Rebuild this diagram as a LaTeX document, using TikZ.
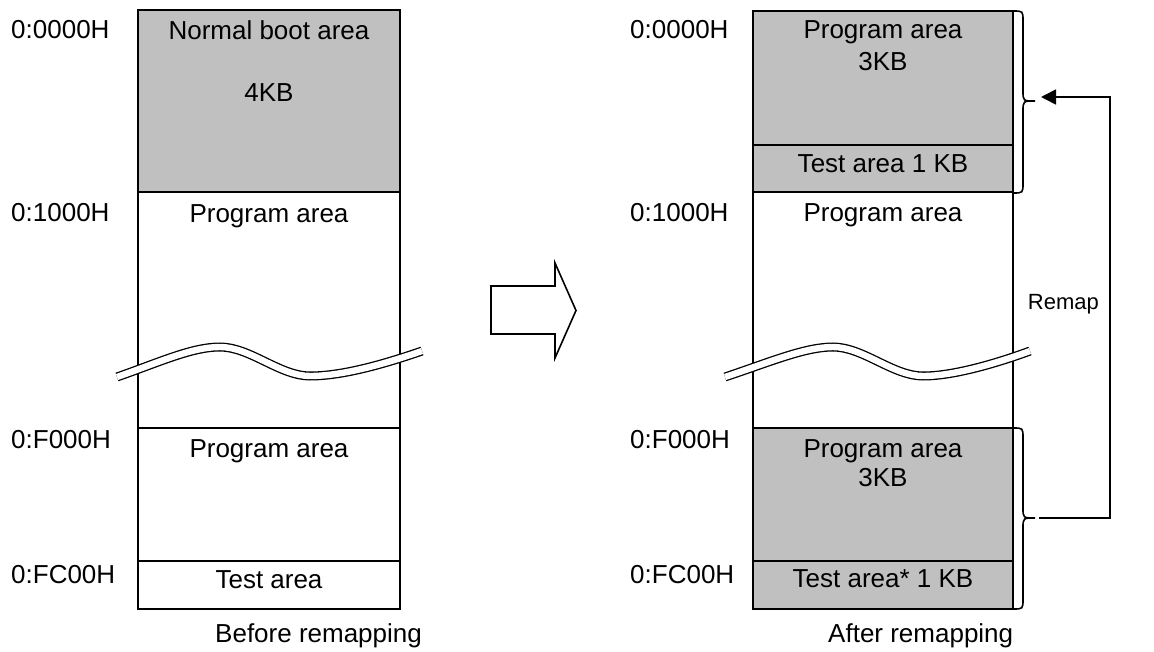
\documentclass[tikz,border=0pt]{standalone}
\usepackage{fontspec}
\setmainfont{Liberation Sans}
\usetikzlibrary{arrows.meta}
\definecolor{areagray}{RGB}{192,192,192}
\tikzset{
  lbl/.style={inner sep=0pt, font=\fontsize{26}{31}\selectfont},
  addr/.style={lbl, anchor=base west},
  intxt/.style={lbl, anchor=base},
  boxline/.style={line width=1.6pt},
  wave/.style={double=white, double distance=6.4pt, line width=1.3pt},
  bracepath/.style={line width=1.6pt},
  conn/.style={line width=1.6pt},
}
\begin{document}
\begin{tikzpicture}[x=1pt,y=-1pt]
\useasboundingbox (0,0) rectangle (1154,652);
% ---------- left memory map ----------
\fill[areagray] (138,10) rectangle (400,192);
\draw[boxline] (138,10) rectangle (400,609);
\draw[boxline] (138,192) -- (400,192);
\draw[boxline] (138,428) -- (400,428);
\draw[boxline] (138,561) -- (400,561);
\draw[wave] (117,377) .. controls (160,362) and (192,347) .. (220,347)
  .. controls (250,347) and (280,376) .. (310,376)
  .. controls (345,376) and (390,362) .. (422,351);
\node[addr] (la0) at (11,39) {0:0000H};
\node[addr] (la1) at (11,222) {0:1000H};
\node[addr] (la2) at (11,448) {0:F000H};
\node[addr] (la3) at (11,583) {0:FC00H};
\node[intxt] (lt1) at (269,40) {Normal boot area};
\node[intxt] (lt2) at (269,102) {4KB};
\node[intxt] (lt3) at (269,223) {Program area};
\node[intxt] (lt4) at (269,457) {Program area};
\node[intxt] (lt5) at (269,588) {Test area};
\node[addr] (lcap) at (215,642) {Before remapping};
% ---------- block arrow ----------
\draw[boxline, line join=miter] (491,286) -- (555,286) -- (555,263) -- (576,310.5)
  -- (555,358) -- (555,334) -- (491,334) -- cycle;
% ---------- right memory map ----------
\fill[areagray] (753,11) rectangle (1013,192);
\fill[areagray] (753,428) rectangle (1013,609);
\draw[boxline] (753,11) rectangle (1013,609);
\draw[boxline] (753,145) -- (1013,145);
\draw[boxline] (753,192) -- (1013,192);
\draw[boxline] (753,428) -- (1013,428);
\draw[boxline] (753,561) -- (1013,561);
\begin{scope}[xshift=610pt]
\draw[wave] (115,377) .. controls (160,362) and (195,347) .. (223,347)
  .. controls (253,347) and (283,376) .. (313,376)
  .. controls (345,376) and (390,362) .. (420,351);
\end{scope}
\node[addr] (ra0) at (630,39) {0:0000H};
\node[addr] (ra1) at (630,222) {0:1000H};
\node[addr] (ra2) at (630,448) {0:F000H};
\node[addr] (ra3) at (630,583) {0:FC00H};
\node[intxt] (rt1) at (883,39) {Program area};
\node[intxt] (rt2) at (883,71) {3KB};
\node[intxt] (rt3) at (883,173) {Test area 1 KB};
\node[intxt] (rt4) at (883,222) {Program area};
\node[intxt] (rt5) at (883,457) {Program area};
\node[intxt] (rt6) at (883,486) {3KB};
\node[intxt] (rt7) at (883,587) {Test area* 1 KB};
\node[addr] (rcap) at (828,642) {After remapping};
% ---------- braces ----------
\draw[bracepath] (1013,11) .. controls (1023,11) .. (1023,21) -- (1023,91)
  .. controls (1023,101) .. (1035,101) .. controls (1023,101) .. (1023,111)
  -- (1023,183) .. controls (1023,193) .. (1013,193);
\draw[bracepath] (1013,428) .. controls (1023,428) .. (1023,438) -- (1023,508)
  .. controls (1023,518) .. (1035,518) .. controls (1023,518) .. (1023,528)
  -- (1023,599) .. controls (1023,609) .. (1013,609);
\coordinate (topbrace) at (1041,97);
\coordinate (botbrace) at (1039,518);
\coordinate (c1) at (1110,518);
\coordinate (c2) at (1110,97);
\draw[conn, -{Triangle[length=15pt,width=15pt]}] (botbrace) -- (c1) -- (c2) -- (topbrace);
\node[inner sep=0pt, font=\fontsize{22}{26}\selectfont, anchor=base east] (remap) at (1099,310) {Remap};
\end{tikzpicture}
\end{document}
